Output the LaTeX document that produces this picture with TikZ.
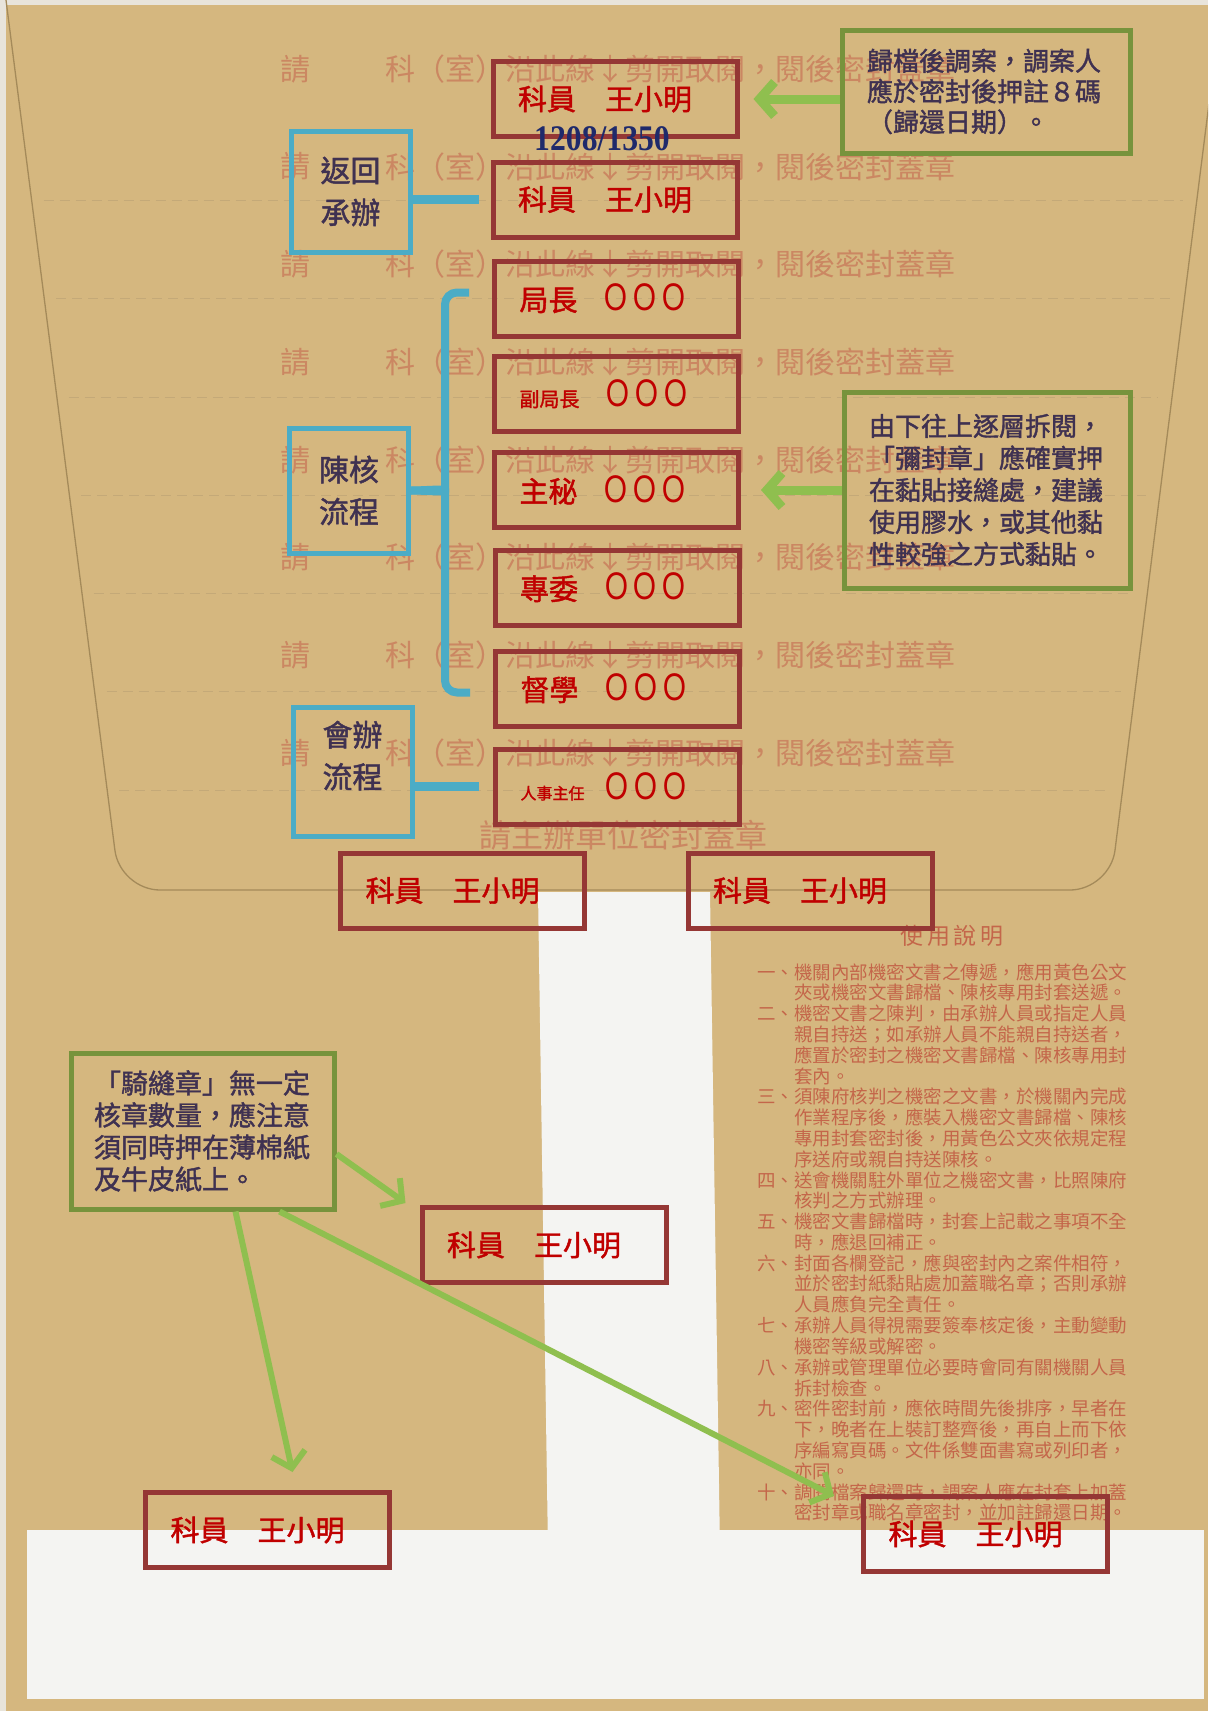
\documentclass[tikz,border=0pt]{standalone}
\usepackage{fontspec}
\usepackage{xcolor}
\usepackage{tikz}
\usetikzlibrary{arrows.meta,calc}
\newfontfamily\cjk{Noto Sans CJK TC}
\newfontfamily\cjkbold{Noto Sans CJK TC}[FakeBold=1.5]
\newfontfamily\digits{Liberation Serif}
\definecolor{kraft}{HTML}{D5B77F}
\definecolor{rim}{HTML}{E8E4DB}
\definecolor{tissue}{HTML}{F4F4F2}
\definecolor{crease}{HTML}{A48A5A}
\definecolor{fold}{HTML}{C4A978}
\definecolor{print}{HTML}{CB8762}
\definecolor{printdark}{HTML}{C4664A}
\definecolor{stampred}{HTML}{953735}
\definecolor{inkred}{HTML}{C00000}
\definecolor{leaf}{HTML}{77933C}
\definecolor{sprout}{HTML}{8FBF4F}
\definecolor{aqua}{HTML}{4BACC6}
\definecolor{plum}{HTML}{3F3151}
\definecolor{navy}{HTML}{1F2A6B}
\newcommand\redfont{\cjkbold\fontsize{29}{29}\selectfont}
\newcommand\tagfont{\cjkbold\fontsize{30}{42}\selectfont}
\newcommand\ooo{\scalebox{0.8}[1]{\cjk\fontsize{36}{36}\selectfont ＯＯＯ}}

\begin{document}
\begin{tikzpicture}[
    x=1pt, y=-1pt,
    stamp/.style={rectangle, draw=stampred, line width=5pt, minimum height=75pt,
                  text width=194pt, inner xsep=25pt, inner ysep=0pt,
                  align=left, text=inkred, font=\redfont},
    tag/.style={rectangle, draw=aqua, line width=5pt, minimum width=119pt,
                minimum height=#1, inner sep=0pt, align=center, text=plum,
                font=\tagfont},
    tag/.default=123pt,
    note/.style={rectangle, draw=leaf, line width=5pt, inner xsep=25pt,
                 inner ysep=0pt, align=left, text=plum,
                 font=\cjkbold\fontsize{26}{32}\selectfont},
    arrow/.style={draw=sprout, line width=#1,
                  -{Straight Barb[length=15pt, width=34pt]}},
    link/.style={draw=aqua, line width=9pt},
    brace/.style={draw=aqua, line width=8pt, rounded corners=12pt},
    printrow/.style={inner sep=0pt, text=print,
                     font=\cjk\fontsize{30}{30}\selectfont},
    clause/.style={anchor=west, inner sep=0pt, text=printdark,
                   font=\cjk\fontsize{18.5}{18.5}\selectfont}
]
\useasboundingbox (0,0) rectangle (1208,1711);

% envelope paper
\fill[kraft] (0,0) rectangle (1208,1711);
\fill[rim] (0,0) rectangle (1208,5);
\fill[rim] (0,0) rectangle (6,1711);

% tissue paper strips
\fill[tissue] (538,892) -- (710,892) -- (720,1550) -- (548,1550) -- cycle;
\fill[tissue] (27,1530) rectangle (1204,1699);

% flap outline and cut lines
\begin{scope}
\clip (0,0) rectangle (1208,1711);
\draw[crease, line width=1.3pt, rounded corners=40pt]
    (6,0) -- (120,890) -- (1110,890) -- (1222,0);
\foreach \k in {1,...,7} {
    \pgfmathsetmacro\yy{102+98.3*\k}
    \pgfmathsetmacro\xl{6+0.128*\yy+12}
    \pgfmathsetmacro\xr{1222-0.126*\yy-14}
    \draw[fold, line width=0.8pt, dash pattern=on 10pt off 6pt] (\xl,\yy) -- (\xr,\yy);
}
\end{scope}

% printed rows on the flap
\foreach \k in {0,...,7} {
    \node[printrow] (ask\k) at (295,{69+97.7*\k}) {請};
    \node[printrow, anchor=west] (row\k) at (385,{69+97.7*\k})
        {科（室）沿此線↓剪開取閱，閱後密封蓋章};
}
\node[printrow, font=\cjk\fontsize{32}{32}\selectfont] (seal) at (623,835)
    {請主辦單位密封蓋章};

% printed instructions
\node[inner sep=0pt, text=printdark, font=\cjk\fontsize{23}{23}\selectfont]
    (title) at (952,936) {使\,用\,說\,明};
\foreach \txt [count=\i from 0] in {
    一、機關內部機密文書之傳遞，應用黃色公文,
    　　夾或機密文書歸檔、陳核專用封套送遞。,
    二、機密文書之陳判，由承辦人員或指定人員,
    　　親自持送；如承辦人員不能親自持送者，,
    　　應置於密封之機密文書歸檔、陳核專用封,
    　　套內。,
    三、須陳府核判之機密之文書，於機關內完成,
    　　作業程序後，應裝入機密文書歸檔、陳核,
    　　專用封套密封後，用黃色公文夾依規定程,
    　　序送府或親自持送陳核。,
    四、送會機關駐外單位之機密文書，比照陳府,
    　　核判之方式辦理。,
    五、機密文書歸檔時，封套上記載之事項不全,
    　　時，應退回補正。,
    六、封面各欄登記，應與密封內之案件相符，,
    　　並於密封紙黏貼處加蓋職名章；否則承辦,
    　　人員應負完全責任。,
    七、承辦人員得視需要簽奉核定後，主動變動,
    　　機密等級或解密。,
    八、承辦或管理單位必要時會同有關機關人員,
    　　拆封檢查。,
    九、密件密封前，應依時間先後排序，早者在,
    　　下，晚者在上裝訂整齊後，再自上而下依,
    　　序編寫頁碼。文件係雙面書寫或列印者，,
    　　亦同。,
    十、調閱檔案歸還時，調案人應在封套上加蓋,
    　　密封章或職名章密封，並加註歸還日期。}
    \node[clause] (line\i) at (757,{972+20.8*\i}) {\txt};

% red stamps on the flap
\node[stamp] (kemu1) at (615,99) {科員　王小明};
\node[stamp] (kemu2) at (615,199.5) {科員　王小明};
\node[stamp] (juzhang) at (616.5,298.5) {局長\hspace{24pt}\ooo};
\node[stamp] (fujuzhang) at (616.5,394)
    {{\fontsize{20}{20}\selectfont 副局長}\hspace{24pt}\ooo};
\node[stamp] (zhumi) at (616.5,490) {主秘\hspace{24pt}\ooo};
\node[stamp] (zhuanwei) at (617,587.5) {專委\hspace{24pt}\ooo};
\node[stamp] (duxue) at (617.5,688.5) {督學\hspace{24pt}\ooo};
\node[stamp] (renshi) at (617.5,786.5)
    {{\fontsize{16}{16}\selectfont 人事主任}\hspace{18pt}\ooo};
\node[inner sep=0pt, text=navy, font=\digits\bfseries\fontsize{36}{36}\selectfont]
    (code) at ([xshift=-13pt]kemu1.south) {\scalebox{0.88}[1]{1208/1350}};

% red stamps across the seams
\node[stamp] (kemuA) at (462.5,890.5) {科員　王小明};
\node[stamp] (kemuB) at (810,890.5) {科員　王小明};
\node[stamp] (kemuC) at (544,1245) {科員　王小明};
\node[stamp] (kemuD) at (267.5,1530) {科員　王小明};
\node[stamp] (kemuE) at (985.5,1534) {科員　王小明};

% blue tags
\node[tag=121pt] (fanhui) at (350.5,191.5) {返回\\承辦};
\node[tag=125pt] (chenhe) at (349,490.5) {陳核\\流程};
\node[tag=129pt] (huiban) at (352.5,771.5) {會辦\\流程\\[-8pt]};
\draw[link] (fanhui.east |- kemu2.west) -- ([xshift=-12pt]kemu2.west);
\draw[link] (huiban.east |- renshi.west) -- ([xshift=-14pt]renshi.west);
\coordinate (bt) at ([xshift=-23pt,yshift=6pt]juzhang.west);
\coordinate (bb) at ([xshift=-23pt,yshift=-4pt]duxue.west);
\draw[brace] (bt) -| ([xshift=34pt,yshift=12pt]chenhe.east) to[out=-90,in=0] (chenhe.east);
\draw[brace] (bb) -| ([xshift=34pt,yshift=-12pt]chenhe.east) to[out=90,in=0] (chenhe.east);

% green notes
\node[note, text width=238pt, minimum height=123pt,
      font=\cjkbold\fontsize{26}{30.5}\selectfont] (recall) at (986,91.5)
    {歸檔後調案，調案人\\應於密封後押註８碼\\（歸還日期）。};
\node[note, text width=236pt, minimum height=196pt] (unseal) at (987,490)
    {由下往上逐層拆閱，\\「彌封章」應確實押\\在黏貼接縫處，建議\\使用膠水，或其他黏\\性較強之方式黏貼。};
\node[note, text width=217pt, inner xsep=23pt, minimum height=156pt,
      font=\cjkbold\fontsize{27}{32}\selectfont] (seam) at (202.5,1131)
    {「騎縫章」無一定\\核章數量，應注意\\須同時押在薄棉紙\\及牛皮紙上。};

% green arrows
\draw[arrow=9pt] (recall.west |- kemu1.east) -- ([xshift=14pt]kemu1.east);
\draw[arrow=9pt] (unseal.west |- zhumi.east) -- ([xshift=20pt]zhumi.east);
\draw[arrow=6pt] ([yshift=-23pt]seam.east) -- ([xshift=-14pt,yshift=2pt]kemuC.north west);
\draw[arrow=6pt] ([xshift=33pt]seam.south) -- ([xshift=25pt,yshift=18pt]kemuD.north);
\draw[arrow=6pt] ([xshift=77pt]seam.south) -- ([xshift=-27pt,yshift=-2pt]kemuE.north west);

\end{tikzpicture}
\end{document}
